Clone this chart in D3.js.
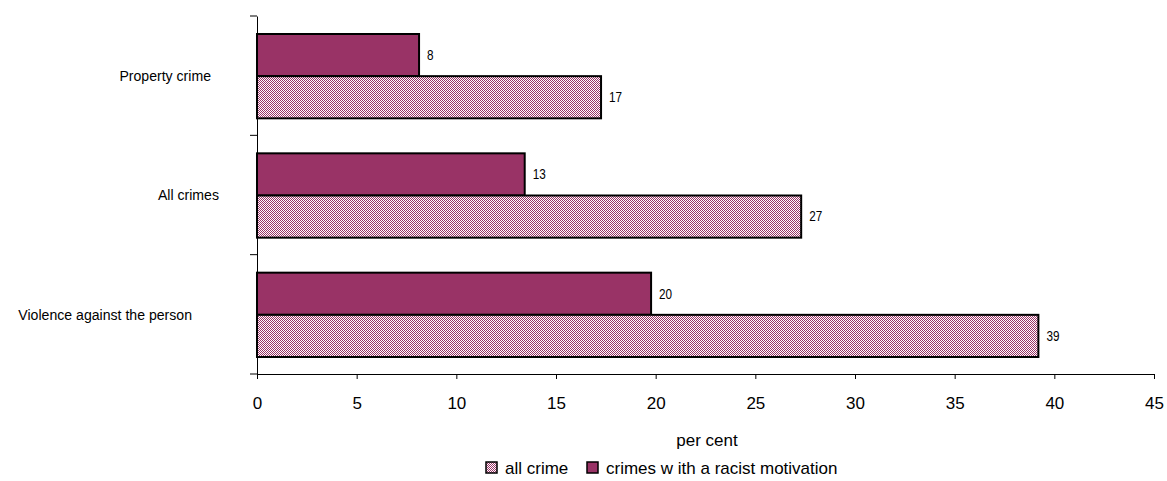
<!DOCTYPE html>
<html><head><meta charset="utf-8">
<script src="https://cdn.jsdelivr.net/npm/d3@7"></script>
<style>body{margin:0;background:#fff}svg{display:block}</style>
</head><body><svg id="c" width="1167" height="481"></svg>
<script>
const categories = ["Property crime", "All crimes", "Violence against the person"];
const racist = [8.13, 13.43, 19.77];
const allCrime = [17.26, 27.3, 39.2];
const racistLabels = ["8", "13", "20"];
const allCrimeLabels = ["17", "27", "39"];
const xTicks = [0, 5, 10, 15, 20, 25, 30, 35, 40, 45];
const seriesNames = ["all crime", "crimes w ith a racist motivation"];

const svg = d3.select("#c");
const defs = svg.append("defs");
const pat = defs.append("pattern").attr("id","chk").attr("width",2).attr("height",2).attr("patternUnits","userSpaceOnUse");
pat.append("rect").attr("width",2).attr("height",2).attr("fill","#fff");
pat.append("rect").attr("x",0).attr("y",0).attr("width",1).attr("height",1).attr("fill","#993366");
pat.append("rect").attr("x",1).attr("y",1).attr("width",1).attr("height",1).attr("fill","#993366");

const x = d3.scaleLinear().domain([0,45]).range([257,1154]);
const y = d3.scaleBand().domain(categories).range([16,374]).paddingInner(0).paddingOuter(0);
const inner = d3.scaleBand().domain(["racist","all"]).range([18, y.bandwidth()-17]);

const sans = "'Liberation Sans',Arial,sans-serif";

// x axis
const xa = svg.append("g").attr("transform","translate(0,374)")
  .call(d3.axisBottom(x).tickValues(xTicks).tickSize(5).tickSizeOuter(0).tickFormat(d3.format("d")));
xa.select(".domain").attr("stroke","#000");
xa.selectAll(".tick line").attr("stroke","#000");
xa.selectAll("text").attr("font-family",sans).attr("font-size",17).attr("fill","#000").attr("y",23).attr("dy","0.71em");

// y axis
const ya = svg.append("g").attr("transform","translate(257,0)")
  .call(d3.axisLeft(y).tickValues([]).tickSizeOuter(0));
ya.select(".domain").attr("stroke","#000");
const boundaries = [16].concat(categories.map(c => y(c)+y.bandwidth()));
svg.append("g").selectAll("line").data(boundaries).join("line")
  .attr("x1",250).attr("x2",257).attr("y1",d=>d).attr("y2",d=>d).attr("stroke","#000");

// category labels (anchor ends as laid out in reference)
const labelEnd = [211, 219, 192];
svg.append("g").selectAll("text").data(categories).join("text")
  .attr("transform",(d,i)=>`translate(${labelEnd[i]},${y(d)+y.bandwidth()/2}) scale(0.94,1)`)
  .attr("dy","0.35em").attr("text-anchor","end")
  .attr("font-family",sans).attr("font-size",15).attr("fill","#000").text(d=>d);

// bars
const g = svg.append("g");
function valLabel(xv, yv, t){
  g.append("text").attr("transform",`translate(${xv},${yv}) scale(0.84,1)`)
    .attr("dy","0.35em").attr("font-family",sans).attr("font-size",14).attr("fill","#000").text(t);
}
categories.forEach((c,i)=>{
  g.append("rect").attr("x",x(0)).attr("y",y(c)+inner("racist"))
    .attr("width",x(racist[i])-x(0)).attr("height",inner.bandwidth())
    .attr("fill","#993366").attr("stroke","#000").attr("stroke-width",2);
  g.append("rect").attr("x",x(0)).attr("y",y(c)+inner("all"))
    .attr("width",x(allCrime[i])-x(0)).attr("height",inner.bandwidth())
    .attr("fill","url(#chk)").attr("stroke","#000").attr("stroke-width",2);
  valLabel(x(racist[i])+8, y(c)+inner("racist")+inner.bandwidth()/2, racistLabels[i]);
  valLabel(x(allCrime[i])+8, y(c)+inner("all")+inner.bandwidth()/2, allCrimeLabels[i]);
});

// axis title
svg.append("text").attr("x",707).attr("y",446).attr("text-anchor","middle")
  .attr("font-family",sans).attr("font-size",17).attr("fill","#000").text("per cent");

// legend
const lg = svg.append("g");
const fills = ["url(#chk)","#993366"];
const lx = [486, 587];
seriesNames.forEach((s,i)=>{
  lg.append("rect").attr("x",lx[i]).attr("y",462).attr("width",11).attr("height",11)
    .attr("fill",fills[i]).attr("stroke","#000").attr("stroke-width",1.5);
  lg.append("text").attr("x",lx[i]+19).attr("y",474).attr("font-family",sans).attr("font-size",17)
    .attr("fill","#000").text(s);
});
</script></body></html>
